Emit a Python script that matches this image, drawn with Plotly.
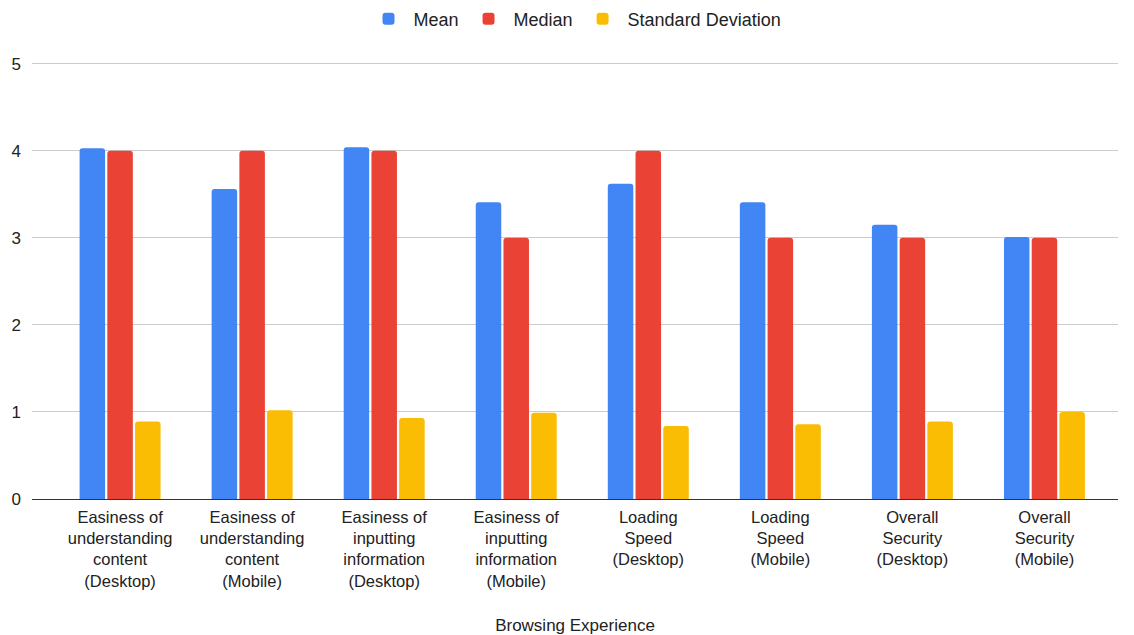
import plotly.graph_objects as go

categories = [
    "Easiness of<br>understanding<br>content<br>(Desktop)",
    "Easiness of<br>understanding<br>content<br>(Mobile)",
    "Easiness of<br>inputting<br>information<br>(Desktop)",
    "Easiness of<br>inputting<br>information<br>(Mobile)",
    "Loading<br>Speed<br>(Desktop)",
    "Loading<br>Speed<br>(Mobile)",
    "Overall<br>Security<br>(Desktop)",
    "Overall<br>Security<br>(Mobile)",
]
mean_vals = [4.03, 3.56, 4.04, 3.41, 3.62, 3.41, 3.15, 3.01]
median_vals = [4, 4, 4, 3, 4, 3, 3, 3]
sd_vals = [0.89, 1.02, 0.93, 0.99, 0.84, 0.86, 0.89, 1.00]

series = [
    ("Mean", mean_vals, "#4285F4"),
    ("Median", median_vals, "#EA4335"),
    ("Standard Deviation", sd_vals, "#FBBC04"),
]

fig = go.Figure()
for name, vals, color in series:
    fig.add_trace(go.Bar(x=categories, y=vals, name=name, marker_color=color,
                         marker_line_width=0))

font = "Arial, Liberation Sans, sans-serif"
fig.update_layout(
    width=1134, height=635,
    margin=dict(l=32, r=16, t=62, b=136, autoexpand=False),
    paper_bgcolor="white", plot_bgcolor="white",
    font=dict(family=font, size=17, color="#222222"),
    barmode="group", bargap=0.37, bargroupgap=0.08,
    barcornerradius=3,
    legend=dict(orientation="h", x=0.5, xanchor="center",
                yref="container", y=1 - 19 / 635, yanchor="middle",
                font=dict(size=18, color="#222222"), itemwidth=40),
    xaxis=dict(range=[-0.667, 7.557], tickfont=dict(size=16.5, color="#222222"),
               showgrid=False, ticks="", ticklabelstandoff=6,
               title=dict(text="Browsing Experience", font=dict(size=17, color="#222222"),
                          standoff=30)),
    yaxis=dict(range=[0, 5.02], tickvals=[0, 1, 2, 3, 4, 5],
               showgrid=True, gridcolor="#cccccc", gridwidth=1,
               zeroline=True, zerolinecolor="#333333", zerolinewidth=1,
               tickfont=dict(size=17, color="#222222"), ticks="", ticklabelstandoff=10),
)

fig.write_html("out.html")
